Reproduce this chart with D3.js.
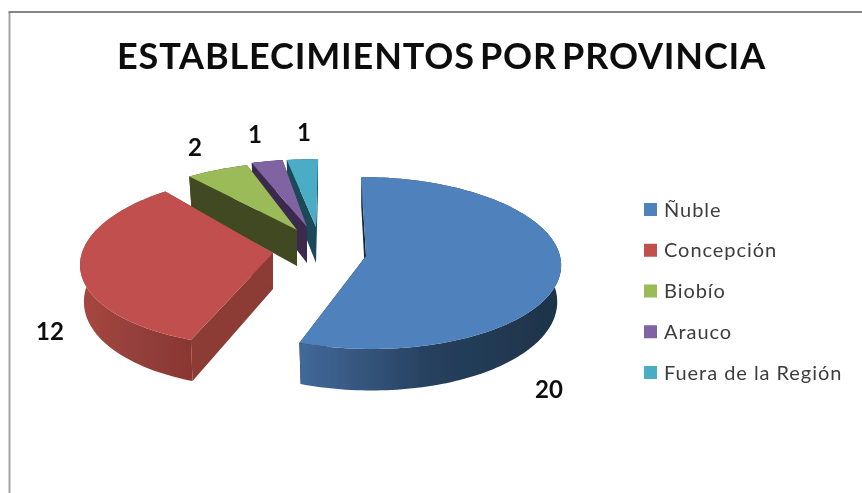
<!DOCTYPE html>
<html>
<head>
<meta charset="utf-8">
<script src="https://cdn.jsdelivr.net/npm/d3@7"></script>
<style>
  html, body { margin: 0; padding: 0; background: #fff; }
  svg { display: block; }
</style>
</head>
<body>
<div id="chart"></div>
<script>
var chartTitle = "ESTABLECIMIENTOS POR PROVINCIA";
var provinces = ["Ñuble", "Concepción", "Biobío", "Arauco", "Fuera de la Región"];
var counts = [20, 12, 2, 1, 1];

var topColors = ["#4f81bd", "#c0504d", "#9bbb59", "#8064a2", "#4bacc6"];
// side wall shading, left to right
var wallColors = [["#42699a", "#26405e", "#1e3349"], ["#a84640", "#94403b", "#8a3632"],
                  ["#3f4a20", "#3f4a20", "#3f4a20"], ["#3b2a4e", "#3b2a4e", "#3b2a4e"], ["#1c4a58", "#1c4a58", "#1c4a58"]];
var cutColors = ["#16263a", "#8c3a35", "#3f4a20", "#3b2a4e", "#1c4a58"];

// where each exploded slice sits: apex, size, depth squash and perspective lean
var apex = [[366, 256], [273, 253], [297, 230], [307, 227], [316, 227]];
var reach = [1, 0.985, 1, 1, 1];
var squash = [1, 1, 0.87, 0.86, 0.86];
var lean = [0.06, -0.13, -0.18, -0.10, -0.03];
var drawOrder = [4, 3, 2, 1, 0];

var labelPos = [[549, 390], [50, 332], [195, 148], [255, 135], [304, 133]];

var width = 862, height = 493;
var radiusX = 194, radiusY = 85.4, persp = 0.0815;

var svg = d3.select("#chart").append("svg")
    .attr("width", width)
    .attr("height", height);

var defs = svg.append("defs");
defs.append("filter").attr("id", "soft")
  .append("feGaussianBlur").attr("stdDeviation", 0.55);

var root = svg.append("g").attr("filter", "url(#soft)");

// frame
root.append("path")
    .attr("d", "M9.5,493V12")
    .attr("fill", "none")
    .attr("stroke", "#a3a3a3")
    .attr("stroke-width", 2);
root.append("path")
    .attr("d", "M8.5,12H862")
    .attr("fill", "none")
    .attr("stroke", "#858585")
    .attr("stroke-width", 2);

root.append("text")
    .attr("x", 441.5)
    .attr("y", 68.5)
    .attr("text-anchor", "middle")
    .style("font-family", "Lato")
    .style("font-weight", 700)
    .style("font-size", "36px")
    .style("letter-spacing", "0.85px")
    .style("word-spacing", "-4.5px")
    .style("fill", "#0c0c0c")
    .text(chartTitle);

var pie = d3.pie().sort(null).value(function(d) { return d; });
var arcs = pie(counts);

// top face point of slice i at angle a
function topPoint(i, a) {
  var u = Math.sin(a), v = Math.cos(a);
  var s = 1 / (1 + persp * v);
  var dy = -radiusY * squash[i] * v * s;
  return [apex[i][0] + radiusX * reach[i] * u * s + lean[i] * dy, apex[i][1] + dy];
}

// same point on the floor of the slice
function lowPoint(i, a) {
  var p = topPoint(i, a);
  return [apex[i][0] + (p[0] - apex[i][0]) * 0.98, p[1] + 36 - 5.5 * Math.cos(a)];
}

function arcAngles(d) {
  var n = Math.max(4, Math.round((d.endAngle - d.startAngle) * 40));
  return d3.range(n + 1).map(function(k) {
    return d.startAngle + (d.endAngle - d.startAngle) * k / n;
  });
}

var line = d3.line().curve(d3.curveLinear);
var apexLow = function(i) { return [apex[i][0], apex[i][1] + 36]; };

drawOrder.forEach(function(i) {
  var d = arcs[i];
  var angles = arcAngles(d);
  var top = angles.map(function(a) { return topPoint(i, a); });
  var low = angles.map(function(a) { return lowPoint(i, a); });
  var g = root.append("g");

  var grad = defs.append("linearGradient")
      .attr("id", "wall" + i)
      .attr("gradientUnits", "userSpaceOnUse")
      .attr("x1", d3.min(top, function(p) { return p[0]; }))
      .attr("x2", d3.max(top, function(p) { return p[0]; }))
      .attr("y1", 0).attr("y2", 0);
  wallColors[i].forEach(function(c, k) {
    grad.append("stop").attr("offset", k / 2).attr("stop-color", c);
  });

  // the two cut faces
  [0, top.length - 1].forEach(function(k) {
    g.append("path")
        .attr("d", line([apex[i], top[k], low[k], apexLow(i)]) + "Z")
        .attr("fill", cutColors[i]);
  });

  // outer wall
  g.append("path")
      .attr("d", line(top.concat(low.slice().reverse())) + "Z")
      .attr("fill", "url(#wall" + i + ")");

  // top face
  g.append("path")
      .attr("d", line([apex[i]].concat(top)) + "Z")
      .attr("fill", topColors[i]);
});

// value labels
root.append("g").selectAll("text")
    .data(counts)
  .enter().append("text")
    .attr("x", function(d, i) { return labelPos[i][0]; })
    .attr("y", function(d, i) { return labelPos[i][1]; })
    .attr("dy", "0.35em")
    .attr("text-anchor", "middle")
    .style("font-family", "Lato")
    .style("font-weight", 700)
    .style("font-size", "24px")
    .style("fill", "#0c0c0c")
    .text(function(d) { return d; });

// legend
var legendY = d3.scalePoint().domain(provinces).range([209.5, 372.5]);
var legend = root.append("g").selectAll("g")
    .data(provinces)
  .enter().append("g")
    .attr("transform", function(d) { return "translate(644," + legendY(d) + ")"; });

legend.append("rect")
    .attr("y", -6.5)
    .attr("width", 13)
    .attr("height", 13)
    .attr("fill", function(d, i) { return topColors[i]; });

legend.append("text")
    .attr("x", 20)
    .attr("dy", "0.35em")
    .style("font-family", "Lato")
    .style("font-size", "20px")
    .style("letter-spacing", "0.95px")
    .style("fill", "#3c3c3c")
    .text(function(d) { return d; });
</script>
</body>
</html>
